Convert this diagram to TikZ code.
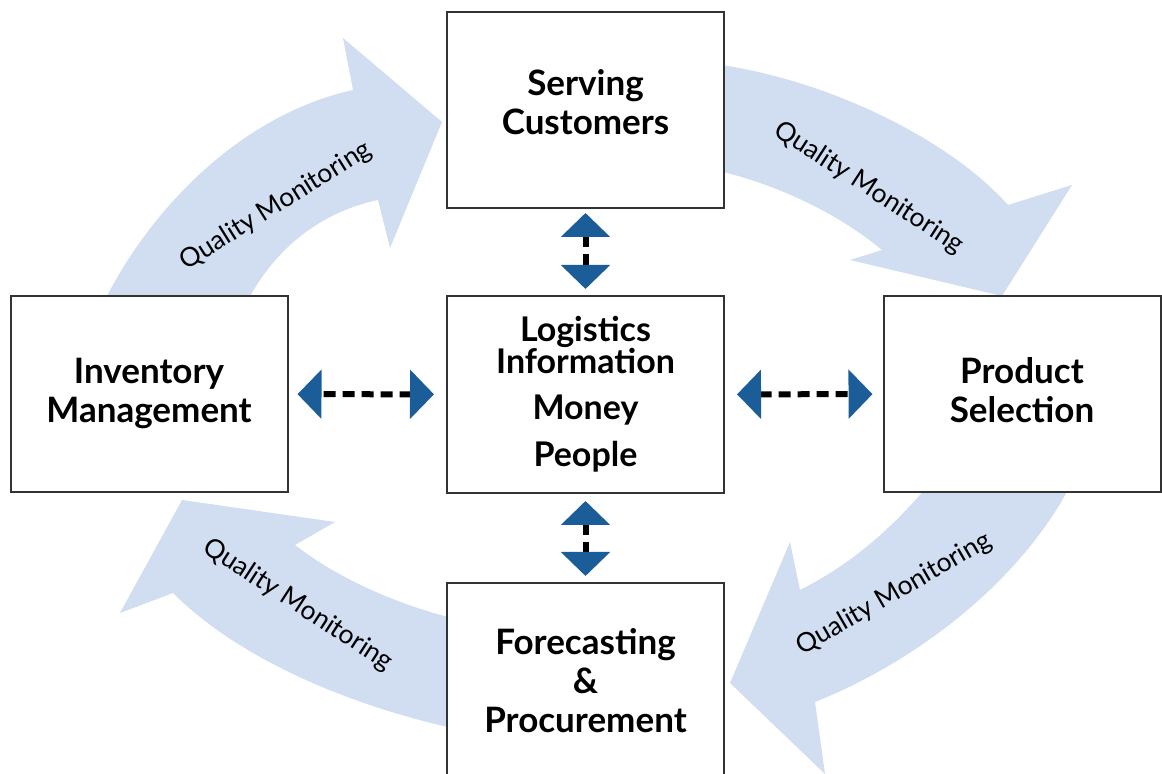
\documentclass[tikz,border=0pt]{standalone}
\usepackage{fontspec}
\setmainfont{Lato}
\usetikzlibrary{arrows.meta}
\definecolor{flowblue}{RGB}{209,221,240}
\definecolor{linkblue}{RGB}{27,93,153}
\definecolor{boxline}{RGB}{51,51,51}

\begin{document}
\begin{tikzpicture}[x=0.5pt,y=-0.5pt,
    box/.style={draw=boxline,line width=1pt,fill=white,minimum width=138.5pt,
      minimum height=98pt,align=center,font=\fontsize{17.5}{19.5}\selectfont\bfseries},
    flow/.style={fill=flowblue},
    qm/.style={font=\fontsize{13.2}{15}\selectfont},
    link/.style={line width=3pt,dash pattern=on 6pt off 3.5pt,{Triangle[length=12pt,width=24pt,color=linkblue]}-{Triangle[length=12pt,width=24pt,color=linkblue]}}]
  \useasboundingbox (0,0) rectangle (1162,774);
  % quality monitoring loop
  \fill[flow] (105,300) .. controls (150,210) and (240,115) .. (353,90) -- (343,38) -- (442,122)
    -- (390,248) -- (378,200) .. controls (330,210) and (280,240) .. (248,300) -- cycle;
  \fill[flow] (715,64) .. controls (830,80) and (950,140) .. (1008,205) -- (1072,185) -- (1002,296)
    -- (850,260) -- (882,250) .. controls (840,215) and (780,185) .. (715,170) -- cycle;
  \fill[flow] (1069,488) .. controls (1020,580) and (920,660) .. (815,702) -- (825,774) -- (730,683)
    -- (790,542) -- (800,590) .. controls (850,565) and (890,530) .. (926,488) -- cycle;
  \fill[flow] (452,728) .. controls (350,705) and (240,660) .. (173,593) -- (120,613) -- (182,500)
    -- (335,522) -- (295,545) .. controls (340,580) and (400,605) .. (452,618) -- cycle;
  \node[qm,rotate=32] (qm1) at (276,206) {Quality Monitoring};
  \node[qm,rotate=-33] (qm2) at (869,188) {Quality Monitoring};
  \node[qm,rotate=30] (qm3) at (894,594) {Quality Monitoring};
  \node[qm,rotate=-33] (qm4) at (298,605) {Quality Monitoring};
  % boxes
  \node[box,text depth=8pt] (serve) at (585.5,110) {Serving\\Customers};
  \node[box] (inv) at (149,394) {Inventory\\Management};
  \node[box,minimum height=98.5pt,font=\fontsize{17}{19}\selectfont\bfseries] (logi) at (585.5,394.5)
    {Logistics\\[-3pt]Information\\[4pt]Money\\[4.5pt]People};
  \node[box,text depth=4pt] (prod) at (1022,394) {Product\\Selection};
  \node[box] (fore) at (585.5,681) {Forecasting\\\&\\Procurement};
  % links
  \draw[link,shorten <=2pt,shorten >=3pt] (serve) -- (logi);
  \draw[link,shorten <=6pt,shorten >=4.5pt] (logi) -- (inv);
  \draw[link,shorten <=6pt,shorten >=5pt] (logi) -- (prod);
  \draw[link,shorten <=3.5pt,shorten >=3pt] (logi) -- (fore);
\end{tikzpicture}
\end{document}
